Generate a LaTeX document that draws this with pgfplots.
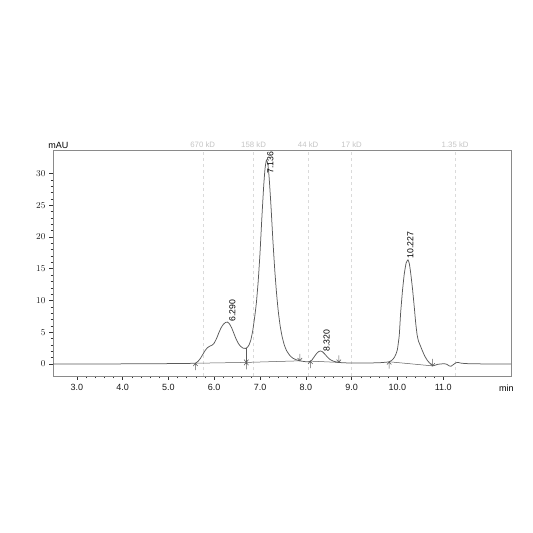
\documentclass[border=0pt]{standalone}
\usepackage{pgfplots}
\pgfplotsset{compat=1.18}
\usepackage{fontspec}
\setmainfont{Liberation Sans}
\definecolor{curve}{HTML}{5A5A5A}
\definecolor{kdgray}{HTML}{C4C4C4}
\definecolor{kdline}{HTML}{DADADA}
\definecolor{frame}{HTML}{8A8A8A}
\pgfdeclareplotmark{startarr}{%
  \pgfpathmoveto{\pgfqpoint{0pt}{-7pt}}\pgfpathlineto{\pgfqpoint{0pt}{0pt}}%
  \pgfpathmoveto{\pgfqpoint{-2.2pt}{-2.8pt}}\pgfpathlineto{\pgfqpoint{0pt}{0pt}}\pgfpathlineto{\pgfqpoint{2.2pt}{-2.8pt}}%
  \pgfusepathqstroke}
\pgfdeclareplotmark{endarr}{%
  \pgfpathmoveto{\pgfqpoint{0pt}{7pt}}\pgfpathlineto{\pgfqpoint{0pt}{0pt}}%
  \pgfpathmoveto{\pgfqpoint{-2.2pt}{2.8pt}}\pgfpathlineto{\pgfqpoint{0pt}{0pt}}\pgfpathlineto{\pgfqpoint{2.2pt}{2.8pt}}%
  \pgfusepathqstroke}
\begin{document}
\begin{tikzpicture}
\useasboundingbox (0,0) rectangle (533bp,533bp);
\begin{axis}[
  at={(53bp,157bp)}, anchor=south west,
  width=458bp, height=226bp, scale only axis,
  xmin=2.48, xmax=12.48, ymin=-1.89, ymax=33.7,
  xtick={3,4,5,6,7,8,9,10,11},
  xticklabels={3.0,4.0,5.0,6.0,7.0,8.0,9.0,10.0,11.0},
  ytick={0,5,10,15,20,25,30},
  minor x tick num=4, minor y tick num=4,
  xtick pos=bottom, ytick pos=left,
  tick align=outside,
  major tick length=4bp, minor tick length=2.5bp,
  axis line style={frame},
  tick style={black!80, line width=0.5bp},
  every axis/.append style={line width=0.6bp},
  ticklabel style={font=\fontsize{9bp}{10bp}\selectfont, text=black!90},
  xticklabel style={yshift=-1bp},
  clip=false,
]
% size-marker lines
\addplot[dashed, kdline, line width=0.5bp, forget plot] coordinates {(5.75,-1.89) (5.75,33.7)};
\addplot[dashed, kdline, line width=0.5bp, forget plot] coordinates {(6.86,-1.89) (6.86,33.7)};
\addplot[dashed, kdline, line width=0.5bp, forget plot] coordinates {(8.05,-1.89) (8.05,33.7)};
\addplot[dashed, kdline, line width=0.5bp, forget plot] coordinates {(9.00,-1.89) (9.00,33.7)};
\addplot[dashed, kdline, line width=0.5bp, forget plot] coordinates {(11.26,-1.89) (11.26,33.7)};
% chromatogram
\addplot[curve, line width=0.75bp, smooth, tension=0.3] coordinates {
(2.48,0.00) (3.0,0.00) (3.5,0.01) (4.0,0.02) (4.5,0.04) (5.0,0.06) (5.3,0.08) (5.5,0.10)
(5.59,0.12) (5.65,0.45) (5.70,0.9) (5.75,1.5) (5.80,2.1) (5.85,2.55) (5.90,2.8) (5.95,2.95)
(6.00,3.3) (6.05,4.0) (6.10,4.9) (6.15,5.7) (6.20,6.25) (6.25,6.55) (6.29,6.6) (6.33,6.35)
(6.38,5.7) (6.43,4.8) (6.48,3.9) (6.53,3.2) (6.58,2.75) (6.63,2.5) (6.68,2.45) (6.72,2.6)
(6.76,3.0) (6.80,3.8) (6.84,5.2) (6.88,7.2) (6.92,9.6) (6.96,13.0) (7.00,17.5) (7.04,23.0)
(7.08,28.0) (7.11,30.8) (7.14,32.1) (7.17,31.5) (7.20,29.3) (7.24,24.8) (7.28,19.6) (7.32,15.0)
(7.36,11.2) (7.40,8.2) (7.44,6.0) (7.48,4.4) (7.53,3.0) (7.58,2.1) (7.65,1.35) (7.72,0.9)
(7.80,0.65) (7.87,0.5) (7.95,0.4) (8.02,0.35) (8.08,0.38) (8.13,0.6) (8.18,1.1) (8.23,1.6)
(8.28,1.95) (8.32,2.05) (8.36,1.95) (8.41,1.6) (8.47,1.1) (8.53,0.7) (8.60,0.45) (8.68,0.3)
(8.72,0.25) (8.8,0.2) (9.0,0.15) (9.3,0.15) (9.6,0.2) (9.75,0.28) (9.82,0.35) (9.88,0.6)
(9.93,1.0) (9.97,1.6) (10.00,2.3) (10.04,4.5) (10.07,8.0) (10.11,11.5) (10.15,14.2) (10.19,15.9)
(10.23,16.4) (10.26,15.8) (10.29,14.3) (10.33,11.8) (10.37,8.8) (10.40,6.4) (10.43,4.6) (10.46,3.6)
(10.50,2.9) (10.55,2.0) (10.60,1.2) (10.66,0.5) (10.72,0.05) (10.77,-0.3) (10.82,-0.2) (10.88,-0.05)
(10.95,0.0) (11.02,0.05) (11.08,-0.05) (11.13,-0.3) (11.17,-0.35) (11.22,-0.1) (11.28,0.2) (11.32,0.25)
(11.40,0.12) (11.55,0.05) (11.8,0.02) (12.1,0.0) (12.48,0.0)
};
% integration baselines
\addplot[curve, line width=0.5bp] coordinates {(5.59,0.12) (6.70,0.25)};
\addplot[curve, line width=0.5bp] coordinates {(6.70,0.25) (6.70,2.5)};
\addplot[curve, line width=0.5bp] coordinates {(6.70,0.25) (7.87,0.5)};
\addplot[curve, line width=0.5bp] coordinates {(8.10,0.45) (8.72,0.25)};
\addplot[curve, line width=0.5bp] coordinates {(9.82,0.35) (10.77,-0.3)};
% peak start / end markers
\addplot[only marks, mark=startarr, curve, mark options={line width=0.55bp}] coordinates {(5.59,0.12) (6.70,0.25) (8.10,0.45) (9.82,0.35)};
\addplot[only marks, mark=endarr, curve, mark options={line width=0.55bp}] coordinates {(6.70,0.25) (7.87,0.5) (8.72,0.25) (10.77,-0.3)};
% peak labels
\node[rotate=90, anchor=north west, inner sep=0, font=\fontsize{8.7bp}{10bp}\selectfont] at (axis cs:6.32,6.65) {6.290};
\node[rotate=90, anchor=north west, inner sep=0, font=\fontsize{8.7bp}{10bp}\selectfont] at (axis cs:7.15,29.9) {7.136};
\node[rotate=90, anchor=north west, inner sep=0, font=\fontsize{8.7bp}{10bp}\selectfont] at (axis cs:8.38,1.95) {8.320};
\node[rotate=90, anchor=north west, inner sep=0, font=\fontsize{8.7bp}{10bp}\selectfont] at (axis cs:10.21,16.6) {10.227};
% size labels
\node[anchor=south, inner sep=0, yshift=2bp, text=kdgray, font=\fontsize{7.8bp}{9bp}\selectfont] at (axis cs:5.75,33.7) {670 kD};
\node[anchor=south, inner sep=0, yshift=2bp, text=kdgray, font=\fontsize{7.8bp}{9bp}\selectfont] at (axis cs:6.86,33.7) {158 kD};
\node[anchor=south, inner sep=0, yshift=2bp, text=kdgray, font=\fontsize{7.8bp}{9bp}\selectfont] at (axis cs:8.05,33.7) {44 kD};
\node[anchor=south, inner sep=0, yshift=2bp, text=kdgray, font=\fontsize{7.8bp}{9bp}\selectfont] at (axis cs:9.00,33.7) {17 kD};
\node[anchor=south, inner sep=0, yshift=2bp, text=kdgray, font=\fontsize{7.8bp}{9bp}\selectfont] at (axis cs:11.26,33.7) {1.35 kD};
% axis unit labels
\node[anchor=south west, inner sep=0, xshift=-5bp, yshift=1.5bp, font=\fontsize{9bp}{10bp}\selectfont] at (rel axis cs:0,1) {mAU};
\node[anchor=east, inner sep=0, xshift=3bp, yshift=-12bp, font=\fontsize{9bp}{10bp}\selectfont] at (rel axis cs:1,0) {min};
\end{axis}
\end{tikzpicture}
\end{document}
